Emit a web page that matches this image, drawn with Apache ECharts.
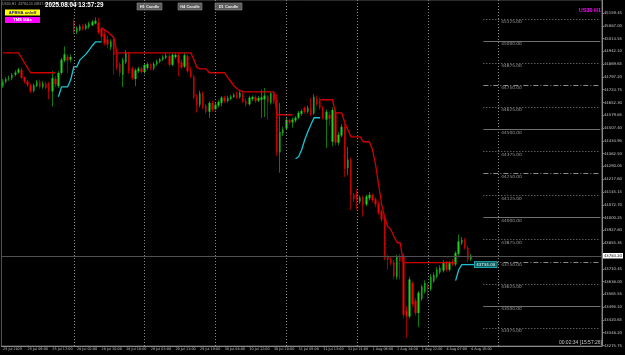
<!DOCTYPE html>
<html><head><meta charset="utf-8">
<script src="https://cdn.jsdelivr.net/npm/echarts@6/dist/echarts.min.js"></script>
<style>html,body{margin:0;padding:0;background:#000}#c{width:625px;height:355px}</style>
</head><body><div id="c"></div>
<script>
// ---- categories (H1 bars) ----
const days = ['25 Jul','28 Jul','29 Jul','30 Jul','31 Jul','1 Aug','4 Aug'];
const lastDayBars = 15;
const totalSlots = 195;
const tickLabels = ['25 Jul 2025','25 Jul 09:00','25 Jul 17:00','28 Jul 02:00','28 Jul 10:00','28 Jul 18:00',
  '29 Jul 03:00','29 Jul 11:00','29 Jul 19:00','30 Jul 04:00','30 Jul 12:00','30 Jul 20:00',
  '31 Jul 05:00','31 Jul 13:00','31 Jul 21:00','1 Aug 06:00','1 Aug 14:00','1 Aug 22:00',
  '4 Aug 07:00','4 Aug 15:00'];
const tickEvery = 8;
const separators = [23,46,69,92,115,138,161];

// ---- OHLC ----
const open = [44745,44770,44785,44790,44810,44822,44838,44795,44772,44750,44718,44745,44770,44740,44760,44760,44715,44785,44745,44820,44890,44912,44895,
45110,45050,45062,45085,45070,45080,45090,45100,45105,45070,45040,45010,44965,45019,44930,44870,44810,44880,44925,44845,44785,44830,44845,
44825,44848,44868,44845,44870,44883,44895,44905,44915,44866,44910,44922,44880,44855,44915,44835,44800,44685,44640,44705,44635,44600,44650,
44615,44635,44650,44680,44660,44672,44684,44702,44682,44700,44662,44642,44672,44684,44662,44668,44670,44688,44652,44702,44668,44370,44478,
44505,44552,44540,44550,44566,44588,44622,44600,44622,44590,44675,44662,44622,44555,44582,44430,44600,44425,44465,44515,44280,44330,44130,
44140,44090,44115,44075,44110,44128,44105,44080,44035,43998,43778,43765,43750,43665,43780,43785,43475,43440,43630,43530,43460,43540,43580,
43620,43595,43640,43665,43690,43700,43745,43705,43750,43735,43795,43855,43875,43830,43765];
const close = [44770,44785,44790,44810,44822,44840,44792,44770,44750,44715,44750,44770,44740,44760,44735,44715,44790,44755,44820,44895,44925,44890,44910,
45050,45075,45085,45070,45090,45100,45110,45115,45050,45025,44990,44980,44998,44922,44850,44820,44895,44935,44830,44790,44835,44845,44825,
44865,44870,44845,44872,44885,44897,44908,44918,44866,44922,44922,44877,44850,44920,44830,44800,44680,44640,44705,44630,44600,44650,44612,
44640,44655,44680,44660,44678,44686,44696,44680,44708,44660,44640,44680,44684,44660,44678,44682,44692,44652,44705,44662,44370,44485,44500,
44554,44540,44555,44566,44594,44604,44600,44622,44585,44685,44645,44622,44565,44600,44560,44610,44425,44470,44515,44275,44330,44130,44105,
44100,44115,44075,44120,44130,44100,44075,44030,43990,43775,43762,43745,43665,43780,43755,43450,43440,43650,43510,43460,43575,43610,43630,
43595,43665,43675,43705,43715,43745,43705,43745,43735,43800,43865,43875,43830,43762,43784.2];
const high = [44785,44795,44805,44820,44835,44850,44850,44800,44780,44760,44760,44780,44782,44775,44770,44770,44830,44800,44830,44905,44970,44925,44925,
45125,45085,45095,45095,45100,45110,45120,45135,45132,45080,45060,45030,45010,45030,44945,44880,44905,44950,44940,44855,44845,44855,44855,
44875,44880,44875,44882,44895,44905,44920,44930,44925,44935,44932,44935,44895,44935,44925,44855,44810,44700,44720,44715,44645,44660,44665,
44655,44665,44690,44690,44690,44695,44705,44712,44718,44708,44675,44690,44692,44692,44690,44725,44735,44695,44715,44712,44700,44650,44515,
44565,44560,44568,44575,44605,44614,44630,44635,44680,44700,44692,44680,44632,44612,44600,44625,44612,44485,44530,44530,44400,44340,44140,
44160,44125,44125,44130,44145,44138,44115,44092,44045,44008,43790,43778,43760,43790,43795,43800,43500,43665,43640,43545,43585,43620,43645,
43630,43680,43690,43720,43730,43760,43755,43755,43765,43810,43905,43890,43885,43840,43795];
const low = [44735,44760,44775,44780,44800,44815,44785,44760,44740,44705,44710,44740,44730,44730,44725,44670,44630,44740,44735,44810,44880,44820,44880,
45040,45040,45055,45060,45062,45070,45085,45095,45040,45000,44975,44960,44950,44810,44835,44800,44740,44870,44815,44780,44745,44820,44815,
44815,44838,44835,44835,44860,44875,44888,44898,44855,44858,44900,44800,44840,44848,44820,44790,44670,44595,44625,44615,44590,44565,44600,
44608,44625,44630,44650,44652,44665,44678,44672,44675,44650,44630,44635,44660,44650,44655,44565,44570,44555,44640,44645,44350,44255,44462,
44498,44530,44510,44538,44558,44578,44590,44592,44575,44582,44632,44612,44555,44395,44520,44405,44410,44410,44455,44230,44240,44045,44090,
44045,44078,44005,44065,44098,44088,44060,44015,43975,43760,43705,43730,43650,43650,43650,43430,43320,43430,43495,43445,43380,43530,43570,
43540,43585,43630,43655,43680,43690,43695,43695,43725,43725,43785,43845,43820,43750,43755];

// ---- indicator lines ----
const redLine = [44934,44934,44934,44934,44934,44934,44906,44877,44849,44821,44821,44821,44821,44821,44821,44821,44821,44821,
null,null,null,null,null,null,null,null,null,null,null,null,null,null,
45075,45064,45053,45036,45019,
44934,44934,44934,44934,44934,44934,44934,44934,44934,44934,44934,44934,44934,44934,44934,44934,44934,44934,44934,44934,44934,44934,44934,44934,44934,
44894,44850,44843,44843,44843,44821,44821,44821,44821,44821,44821,44793,44770,44747,44730,44719,
44713,44713,44713,44713,44713,44713,44713,44713,44713,44713,44713,
44583,44583,44583,44583,44583,44583,
null,null,null,null,null,null,null,null,
44668,44668,44668,44668,44668,44594,44594,44594,44538,44498,44458,44458,44458,44458,44430,44430,44430,
44385,44300,44186,44073,43999,43949,43932,43892,43858,43858,
43745,43745,43745,43745,43745,43745,43745,43745,43745,43745,43745,43745,43745,43745,43745,43745,43745,43745];
const cyanStartA = 18, cyanA = [44685,44741,44741,44741,44781,44855,44855,44894,44911,44928,44951,44974,44996,44996,44996];
const cyanStartB = 95, cyanB = [44334,44345,44385,44441,44487,44526,44566,44566,44566];
const cyanStartC = 147, cyanC = [43643,43705,43734,43734,43734,43734,43734];

// ---- price axis / levels ----
const priceTicks = [45159.45,45087.00,45014.55,44942.10,44869.65,44797.20,44724.75,44652.30,44579.85,44507.40,44434.95,
  44362.50,44290.05,44217.60,44145.15,44072.70,44000.25,43927.80,43855.35,43710.45,43638.00,43565.55,43493.10,
  43420.65,43348.20,43275.75];
const levels = [45125,45000,44875,44750,44625,44500,44375,44250,44125,44000,43875,43750,43625,43500,43375];
const levelStartBar = 156;
const bidPrice = 43784.20;

// ---- build ----
const categories = [];
days.forEach((d, di) => {
  const n = di === days.length - 1 ? lastDayBars : 23;
  for (let h = 1; h <= n; h++) categories.push(d + ' ' + String(h).padStart(2, '0') + ':00');
});
while (categories.length < totalSlots) categories.push('');

const wickData = open.map((o, i) => [o, close[i], low[i], high[i]]);
const bodyData = open.map((o, i) => [o, close[i], Math.min(o, close[i]), Math.max(o, close[i])]);

const cyanLine = new Array(cyanStartC + cyanC.length).fill(null);
[[cyanStartA, cyanA], [cyanStartB, cyanB], [cyanStartC, cyanC]].forEach(([s, arr]) => {
  arr.forEach((v, k) => { cyanLine[s + k] = v; });
});
const cyanLastIdx = cyanLine.length - 1;
const cyanLast = cyanLine[cyanLastIdx];

const lvlStyle = v => v % 500 === 0 ? { color: '#6f6f6f', type: 'solid', width: 1 }
  : v % 250 === 0 ? { color: '#8a8a8a', type: [5, 2, 1, 2], width: 1 }
  : { color: '#8a8a8a', type: [1, 2], width: 1 };

const levelLines = levels.map(v => [
  { coord: [levelStartBar, v], lineStyle: lvlStyle(v), label: { formatter: v.toFixed(2) } },
  { coord: [totalSlots - 1, v] }
]);

const chart = echarts.init(document.getElementById('c'), null, { renderer: 'canvas' });
chart.setOption({
  backgroundColor: '#000',
  animation: false,
  textStyle: { fontFamily: 'DejaVu Sans' },
  grid: { left: 0, right: 20, top: 0, bottom: 9, show: true, borderColor: '#555', borderWidth: 1, backgroundColor: '#000' },
  xAxis: {
    type: 'category', data: categories, boundaryGap: true,
    axisLine: { lineStyle: { color: '#8a8a8a', width: 1 } },
    axisTick: { interval: i => i % tickEvery === 0 && i / tickEvery < tickLabels.length, alignWithLabel: true, length: 2, lineStyle: { color: '#8a8a8a' } },
    axisLabel: { interval: i => i % tickEvery === 0 && i / tickEvery < tickLabels.length,
      formatter: (v, i) => tickLabels[i / tickEvery] || '', align: 'left', fontSize: 3.4, color: '#c8c8c8', margin: 1.5, hideOverlap: false },
    splitLine: { show: false }
  },
  yAxis: {
    type: 'value', position: 'right', min: 43273, max: 45233,
    axisLine: { show: true, lineStyle: { color: '#8a8a8a', width: 1 } },
    axisTick: { show: true, customValues: priceTicks, length: 2, lineStyle: { color: '#8a8a8a' } },
    axisLabel: { customValues: priceTicks, formatter: v => Number(v).toFixed(2), fontSize: 3.8, color: '#c8c8c8', margin: 2 },
    splitLine: { show: false }
  },
  series: [
    {
      name: 'wick', type: 'candlestick', data: wickData, barWidth: 0.6, silent: true,
      itemStyle: { color: '#0c7a0c', color0: '#9a0000', borderColor: '#0c7a0c', borderColor0: '#9a0000', borderWidth: 1 },
      markLine: { silent: true, symbol: 'none', animation: false, label: { show: false },
        lineStyle: { color: '#8a8a8a', type: [1, 2], width: 1 },
        data: separators.map(s => ({ xAxis: s })) }
    },
    {
      name: 'body', type: 'candlestick', data: bodyData, barWidth: 2, silent: true,
      itemStyle: { color: '#1ed21e', color0: '#f00000', borderColor: '#1ed21e', borderColor0: '#f00000', borderWidth: 0 },
      markLine: { silent: true, symbol: 'none', animation: false,
        label: { show: true, position: 'insideStartBottom', fontSize: 4.3,
          color: '#9a9a9a', padding: [0, 0, 0, 17], distance: 1 },
        data: levelLines }
    },
    {
      name: 'red', type: 'line', data: redLine, showSymbol: false, connectNulls: false, silent: true,
      lineStyle: { color: '#d00000', width: 1.3 },
      markLine: { silent: true, symbol: 'none', animation: false,
        lineStyle: { color: '#505050', type: 'solid', width: 1 },
        label: { show: true, position: 'end', distance: 1, formatter: bidPrice.toFixed(2), backgroundColor: '#fff',
          color: '#000', fontSize: 3.8, padding: [1, 1, 0.5, 1] },
        data: [{ yAxis: bidPrice }] }
    },
    {
      name: 'cyan', type: 'line', data: cyanLine, showSymbol: false, connectNulls: false, silent: true,
      lineStyle: { color: '#19c3d2', width: 1.3 },
      markPoint: { silent: true, animation: false, symbol: 'rect', symbolSize: 0.1,
        label: { show: true, position: 'right', distance: 0.5, formatter: cyanLast.toFixed(2),
          backgroundColor: '#0e5e62', borderColor: '#2fd0d8', borderWidth: 0.6, color: '#e0ffff', fontSize: 4,
          padding: [1, 1.5, 0.5, 1.5] },
        itemStyle: { color: 'transparent' },
        data: [{ coord: [cyanLastIdx, cyanLast] }] }
    }
  ],
  graphic: [
    { type: 'text', left: 2, top: 2, style: { text: 'US30,H1  43784.20 43817.60 43764.90 43784.20', fontSize: 3.5, fill: '#a0a0a0' } },
    { type: 'text', left: 45, top: 2.5, style: { text: '2025.08.04 13:57:29', fontSize: 6.3, fontWeight: 'bold', fill: '#ffffff' } },
    { type: 'rect', shape: { x: 137, y: 3, width: 25, height: 7 }, style: { fill: '#5c5c5c', stroke: '#8c8c8c', lineWidth: 0.6 } },
    { type: 'text', x: 149.5, y: 6.6, style: { text: 'H1 Candle', fontSize: 4, fontWeight: 'bold', fill: '#e8e8e8', align: 'center', verticalAlign: 'middle' } },
    { type: 'rect', shape: { x: 178, y: 3, width: 24, height: 7 }, style: { fill: '#5c5c5c', stroke: '#8c8c8c', lineWidth: 0.6 } },
    { type: 'text', x: 190, y: 6.6, style: { text: 'H4 Candle', fontSize: 4, fontWeight: 'bold', fill: '#e8e8e8', align: 'center', verticalAlign: 'middle' } },
    { type: 'rect', shape: { x: 215, y: 3, width: 27, height: 7 }, style: { fill: '#5c5c5c', stroke: '#8c8c8c', lineWidth: 0.6 } },
    { type: 'text', x: 228.5, y: 6.6, style: { text: 'D1 Candle', fontSize: 4, fontWeight: 'bold', fill: '#e8e8e8', align: 'center', verticalAlign: 'middle' } },
    { type: 'rect', shape: { x: 5, y: 9.5, width: 35, height: 6 }, style: { fill: '#ffff00' } },
    { type: 'text', x: 22.5, y: 12.6, style: { text: 'APBHA on/off', fontSize: 4.2, fontWeight: 'bold', fill: '#20208a', align: 'center', verticalAlign: 'middle' } },
    { type: 'rect', shape: { x: 5, y: 17, width: 35, height: 6 }, style: { fill: '#ff00ff' } },
    { type: 'text', x: 22.5, y: 20.1, style: { text: 'TMS MAs', fontSize: 4.2, fontWeight: 'bold', fill: '#ffffff', align: 'center', verticalAlign: 'middle' } },
    { type: 'text', x: 601, y: 10, style: { text: 'US30 H1', fontSize: 5.5, fontWeight: 'bold', fill: '#ff00ff', align: 'right', verticalAlign: 'middle' } },
    { type: 'text', x: 602, y: 343, style: { text: '00:02:34 [15:57:26]', fontSize: 5, fill: '#c8c8c8', align: 'right', verticalAlign: 'middle' } }
  ]
});
</script></body></html>
